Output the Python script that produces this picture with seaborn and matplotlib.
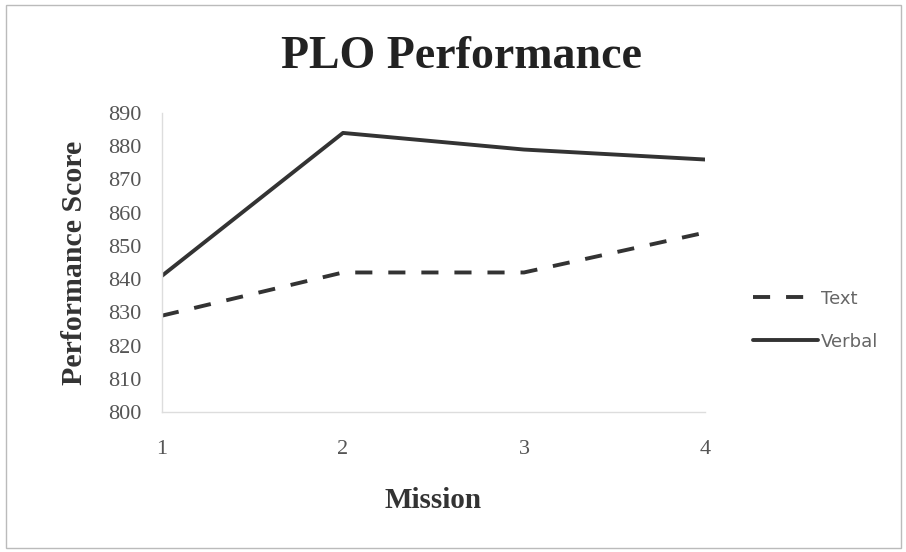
import seaborn as sns
import matplotlib.pyplot as plt
import pandas as pd
from matplotlib.patches import Rectangle

missions = [1, 2, 3, 4]
text_scores = [829, 842, 842, 854]
verbal_scores = [841, 884, 879, 876]
series_names = ['Text', 'Verbal']
y_ticks = list(range(800, 891, 10))

df = pd.DataFrame({
    'Mission': missions * 2,
    'Score': text_scores + verbal_scores,
    'Series': [series_names[0]] * 4 + [series_names[1]] * 4,
})

sns.set_style('white')
plt.rcParams['font.family'] = ['Liberation Serif', 'DejaVu Serif']

fig = plt.figure(figsize=(9.06, 5.52), dpi=100)
ax = fig.add_axes([0.1788, 0.2536, 0.5993, 0.5417])

lw = 2.8
sns.lineplot(data=df, x='Mission', y='Score', style='Series',
             dashes={'Text': (4.4, 4.1), 'Verbal': ''}, color='#333333',
             linewidth=lw, ax=ax, legend=True)

ax.set_xlim(1, 4)
ax.set_ylim(800, 890)
ax.set_xticks(missions)
ax.set_yticks(y_ticks)
ax.tick_params(axis='x', labelsize=16, colors='#cccccc', labelcolor='#555555',
               length=7, direction='out', pad=13)
ax.tick_params(axis='y', labelsize=16, colors='#dddddd', labelcolor='#555555',
               length=6, direction='out', pad=9)
for side in ['top', 'right']:
    ax.spines[side].set_visible(False)
for side in ['left', 'bottom']:
    ax.spines[side].set_color('#dddddd')
    ax.spines[side].set_linewidth(1)

ax.set_xlabel('Mission', fontsize=21, fontweight='bold', color='#333333', labelpad=20)
ax.set_ylabel('Performance Score', fontsize=21.5, fontweight='bold', color='#333333', labelpad=14)
fig.text(0.509, 0.877, 'PLO Performance', fontsize=33, fontweight='bold',
         color='#222222', ha='center', va='baseline')

handles, labels = ax.get_legend_handles_labels()
ax.get_legend().remove()
leg = fig.legend(handles, labels, loc='center left', bbox_to_anchor=(0.831, 0.42),
                 frameon=False, borderpad=0, borderaxespad=0,
                 handlelength=3.6, handletextpad=0.15, labelspacing=1.4,
                 prop={'family': 'DejaVu Sans', 'size': 13})
for t in leg.get_texts():
    t.set_color('#666666')
for line in leg.get_lines():
    line.set_linewidth(lw)

fig.patches.append(Rectangle((0.007, 0.008), 0.987, 0.983, transform=fig.transFigure,
                             fill=False, edgecolor='#bbbbbb', linewidth=1))

fig.savefig('out.png', dpi=100)
